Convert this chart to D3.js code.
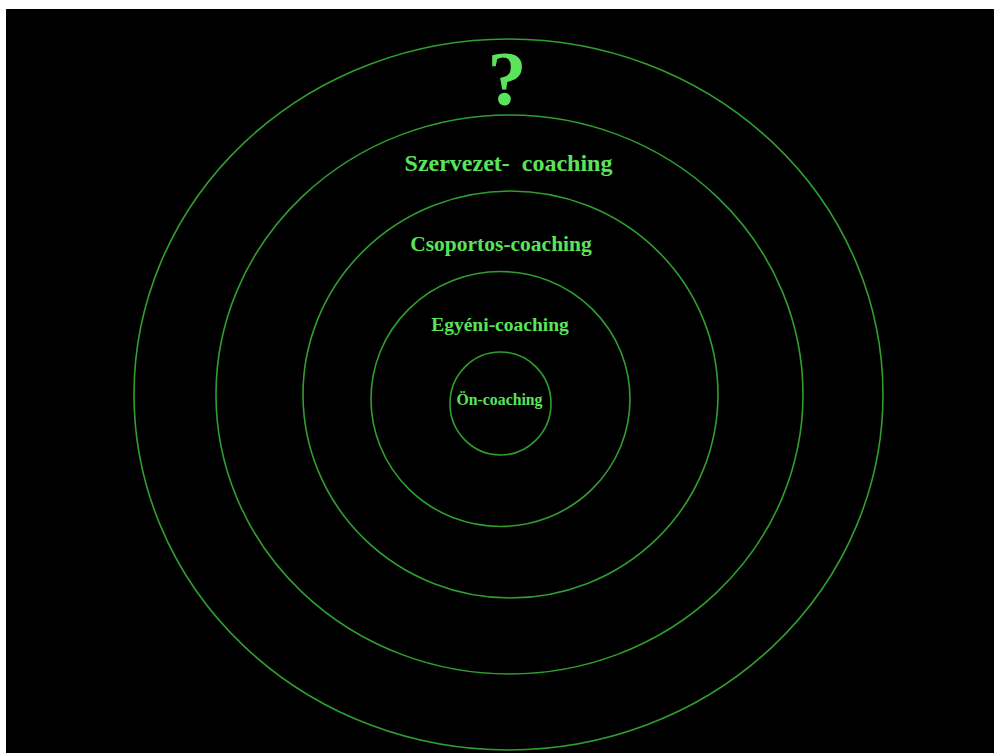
<!DOCTYPE html>
<html>
<head>
<meta charset="utf-8">
<script src="https://cdn.jsdelivr.net/npm/d3@7"></script>
<style>
  html, body { margin: 0; padding: 0; background: #fff; overflow: hidden; }
  text { font-family: "Liberation Serif", "Times New Roman", serif; font-weight: bold; white-space: pre; }
</style>
</head>
<body>
<svg id="chart" width="994" height="753"></svg>
<script>
// rings from the inside out
const levels = ["Ön-coaching", "Egyéni-coaching", "Csoportos-coaching", "Szervezet-  coaching", "?"];
const levelIndex = [0, 1, 2, 3, 4];
const labelSizes = [15.8, 19.5, 21.5, 24, 78];

const svg = d3.select("#chart");

svg.append("rect")
    .attr("x", 6).attr("y", 9)
    .attr("width", 988).attr("height", 744)
    .style("fill", "#000");

// ring index -> radii / centre
const rx = d3.scaleLinear().domain([0, 1, 2, 3, 4]).range([50.5, 129.5, 207.5, 293.5, 374.5]);
const ry = d3.scaleLinear().domain([0, 4]).range([51.5, 355.5]);
const cx = d3.scaleLinear().domain([0, 1, 2, 4]).range([500.5, 500.5, 510.5, 508.5]);
const cy = d3.scaleLinear().domain([0, 2, 4]).range([403.5, 394.5, 394.5]);

const ringTop = i => cy(i) - ry(i);

svg.selectAll(".ring")
    .data(levelIndex)
    .enter()
    .append("ellipse")
    .attr("class", "ring")
    .attr("cx", d => cx(d))
    .attr("cy", d => cy(d))
    .attr("rx", d => rx(d))
    .attr("ry", d => ry(d))
    .style("fill", "none")
    .style("stroke", "#2f9e2f")
    .style("stroke-width", 1.6);

// label sits in the band between this ring's top and the next inner one
const labelShift = [-4, 13, 13, 10, 1];
const labelY = i => (i === 0 ? cy(0) : (ringTop(i) + ringTop(i - 1)) / 2) + labelShift[i];
const labelX = [499.5, 500, 501, 508.5, 507];

svg.selectAll(".label")
    .data(levelIndex)
    .enter()
    .append("text")
    .attr("class", "label")
    .attr("x", d => labelX[d])
    .attr("y", d => labelY(d))
    .attr("text-anchor", "middle")
    .attr("dominant-baseline", "central")
    .style("font-size", d => labelSizes[d] + "px")
    .style("fill", "#5be35b")
    .text(d => levels[d]);
</script>
</body>
</html>
